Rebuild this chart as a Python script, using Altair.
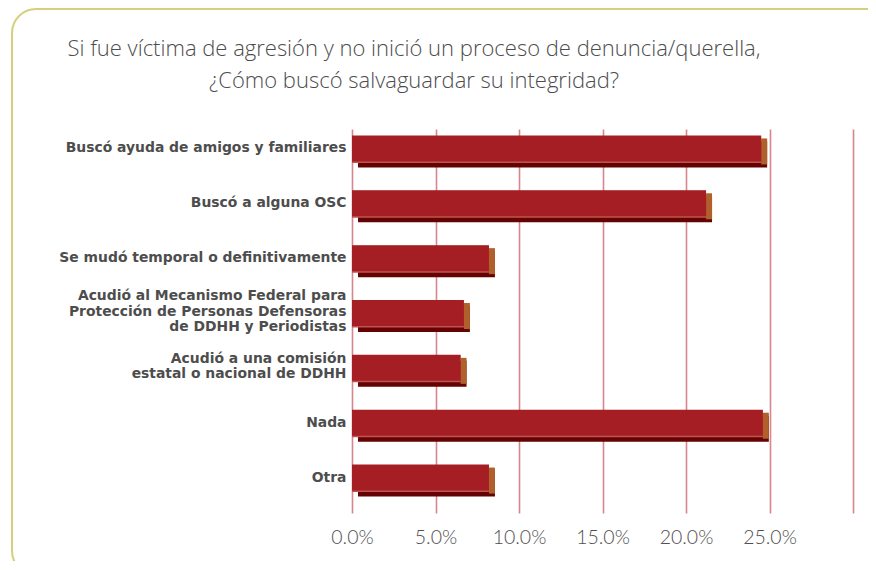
import altair as alt
import pandas as pd

categories = [
    "Buscó ayuda de amigos y familiares",
    "Buscó a alguna OSC",
    "Se mudó temporal o definitivamente",
    "Acudió al Mecanismo Federal para|Protección de Personas Defensoras|de DDHH y Periodistas",
    "Acudió a una comisión|estatal o nacional de DDHH",
    "Nada",
    "Otra",
]
values = [0.245, 0.212, 0.082, 0.067, 0.065, 0.246, 0.082]
x_ticks = [0.0, 0.05, 0.10, 0.15, 0.20, 0.25, 0.30]
title_lines = [
    "Si fue víctima de agresión y no inició un proceso de denuncia/querella,",
    "¿Cómo buscó salvaguardar su integridad?",
]

df = pd.DataFrame({"cat": categories, "val": values})

FRONT = "#A51E23"
EDGE = "#BE5455"
DARK = "#650202"
SIDE = "#B0612B"
SIZE = 26

y_enc = alt.Y(
    "cat:N",
    sort=categories,
    scale=alt.Scale(paddingInner=0, paddingOuter=0),
    axis=alt.Axis(
        title=None,
        domain=False,
        ticks=False,
        grid=False,
        labelExpr="split(datum.label, '|')",
        labelFont="DejaVu Sans",
        labelFontWeight="bold",
        labelFontSize=13.9,
        labelLineHeight=15.5,
        labelColor="#4D4D4D",
        labelPadding=6,
        labelLimit=400,
        labelOffset={
            "condition": [
                {"test": "length(split(datum.value, '|')) == 3", "value": -25},
                {"test": "length(split(datum.value, '|')) == 2", "value": -17},
            ],
            "value": -8,
        },
    ),
)
x_scale = alt.Scale(domain=[0, 0.30], nice=False)
x_axis = alt.Axis(
    title=None,
    values=x_ticks,
    format=".1%",
    labelExpr="datum.value > 0.29 ? '' : datum.label",
    labelFlush=False,
    domain=False,
    ticks=False,
    grid=True,
    gridColor="#D6878E",
    gridWidth=1.6,
    labelFont="Lato",
    labelFontWeight=300,
    labelFontSize=19.5,
    labelColor="#505050",
    labelPadding=15,
)

base = alt.Chart(df)

dark = base.mark_bar(
    size=SIZE, color=DARK, xOffset=6, x2Offset=6, yOffset=-2, y2Offset=-2
).encode(y=y_enc, x=alt.X("val:Q", scale=x_scale, axis=x_axis))

side = base.mark_bar(
    size=SIZE, color=SIDE, x2Offset=6, yOffset=-5, y2Offset=-5
).encode(y=y_enc, x=alt.X("val:Q", scale=x_scale, axis=x_axis), x2="val:Q")

edge = base.mark_bar(
    size=SIZE + 1, color=EDGE, yOffset=-7, y2Offset=-7
).encode(y=y_enc, x=alt.X("val:Q", scale=x_scale, axis=x_axis))

front = base.mark_bar(
    size=SIZE, color=FRONT, yOffset=-8, y2Offset=-8
).encode(y=y_enc, x=alt.X("val:Q", scale=x_scale, axis=x_axis))

one = pd.DataFrame({"a": [0]})

frame = alt.Chart(one).mark_rect(
    filled=False, stroke="#D6CF7E", strokeWidth=2, cornerRadius=24, clip=False
).encode(
    x=alt.value(-340), x2=alt.value(556), y=alt.value(-120), y2=alt.value(446)
)

title = alt.Chart(one).mark_text(
    text=title_lines,
    align="center",
    baseline="alphabetic",
    lineHeight=32,
    font="Open Sans",
    fontWeight=300,
    fontSize=22,
    color="#4D4D4D",
).encode(x=alt.value(62), y=alt.value(-73))

chart = alt.layer(frame, title, dark, side, edge, front).properties(
    width=501,
    height=384,
    autosize=alt.AutoSizeParams(type="none"),
    padding={"left": 344, "top": 121, "right": 15, "bottom": 48},
).configure_view(stroke=None)

chart.save("out.html", embed_options={"renderer": "svg", "actions": False})
